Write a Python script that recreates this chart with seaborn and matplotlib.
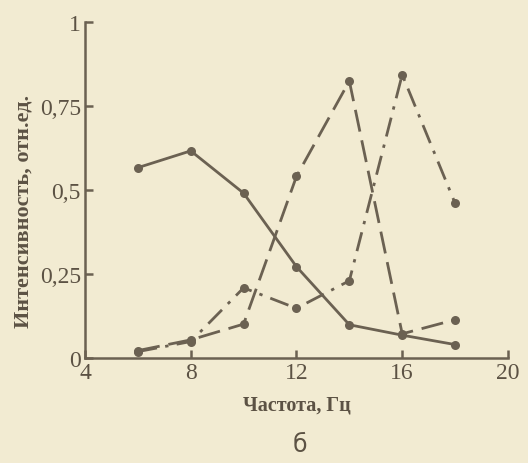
import matplotlib
matplotlib.use("Agg")
import matplotlib.pyplot as plt
import seaborn as sns
import pandas as pd
from matplotlib.ticker import FixedLocator, FixedFormatter

# Frequencies, Hz
freq = [6, 8, 10, 12, 14, 16, 18]
# Relative intensity for the three responses
solid_curve = [0.567, 0.617, 0.491, 0.272, 0.099, 0.068, 0.040]
dashed_curve = [0.022, 0.054, 0.101, 0.541, 0.825, 0.072, 0.114]
dashdot_curve = [0.019, 0.049, 0.209, 0.148, 0.230, 0.844, 0.461]

x_ticks = [4, 8, 12, 16, 20]
x_tick_labels = ["4", "8", "12", "16", "20"]
y_ticks = [0, 0.25, 0.5, 0.75, 1]
y_tick_labels = ["0", "0,25", "0,5", "0,75", "1"]

paper = "#f2ebd2"
ink = "#6b6152"
text_ink = "#5c5244"

df = pd.DataFrame({
    "freq": freq * 3,
    "value": solid_curve + dashed_curve + dashdot_curve,
    "curve": ["a"] * 7 + ["b"] * 7 + ["c"] * 7,
})

sns.set_theme(style="ticks")
plt.rcParams["font.family"] = ["Liberation Serif", "DejaVu Serif"]

fig = plt.figure(figsize=(5.28, 4.64), dpi=100, facecolor=paper)
ax = fig.add_axes([0.161, 0.2263, 0.801, 0.7235])
ax.set_facecolor(paper)

sns.lineplot(
    data=df, x="freq", y="value", style="curve",
    dashes={"a": "", "b": (8, 3.2), "c": (7, 3, 1.2, 3)},
    markers={"a": "o", "b": "o", "c": "o"},
    color=ink, linewidth=2.0, markersize=6.5, markeredgewidth=0,
    legend=False, ax=ax,
)

ax.set_xlim(4, 20)
ax.set_ylim(0, 1)
ax.xaxis.set_major_locator(FixedLocator(x_ticks))
ax.xaxis.set_major_formatter(FixedFormatter(x_tick_labels))
ax.yaxis.set_major_locator(FixedLocator(y_ticks))
ax.yaxis.set_major_formatter(FixedFormatter(y_tick_labels))

for side in ["top", "right"]:
    ax.spines[side].set_visible(False)
for side in ["left", "bottom"]:
    ax.spines[side].set_color(ink)
    ax.spines[side].set_linewidth(1.8)

ax.tick_params(axis="both", direction="in", length=6, width=1.8,
               color=ink, labelcolor=text_ink, labelsize=17, pad=3)
ax.tick_params(axis="x", pad=3)

ax.set_xlabel("Частота, Гц", fontsize=14.5, fontweight="bold", color=text_ink, labelpad=8)
ax.set_ylabel("Интенсивность, отн.ед.", fontsize=16, fontweight="bold", color=text_ink)
ax.yaxis.set_label_coords(-0.122, 0.44)

fig.text(0.568, 0.04, "б", fontsize=17, color=text_ink, family="DejaVu Sans",
         ha="center", va="center")

fig.savefig("out.png", dpi=100, facecolor=paper)
